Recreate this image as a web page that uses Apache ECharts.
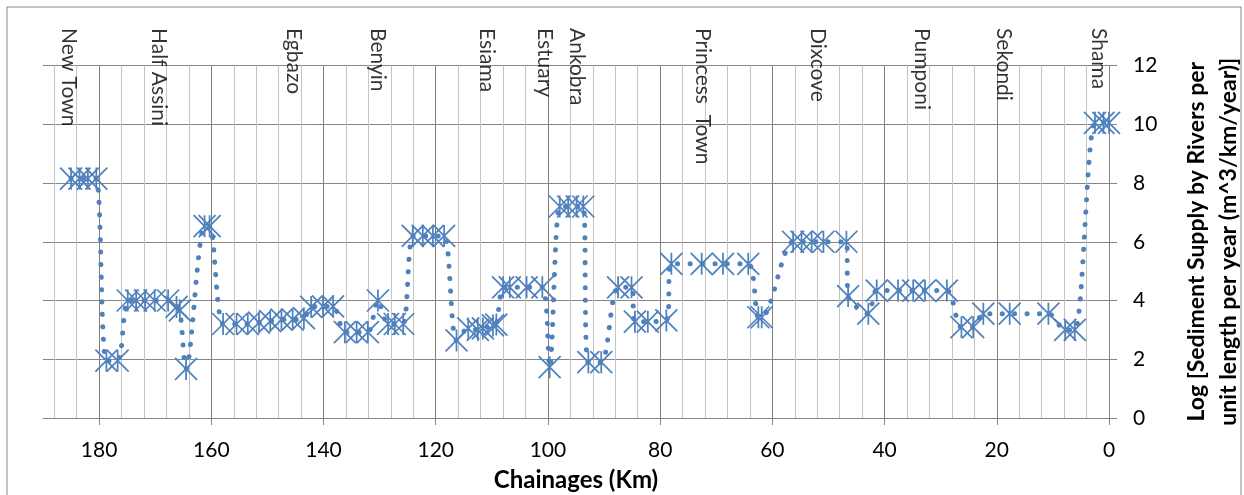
<!DOCTYPE html>
<html>
<head>
<meta charset="utf-8">
<title>Sediment supply by rivers</title>
<script src="https://cdn.jsdelivr.net/npm/echarts@6/dist/echarts.min.js"></script>
<style>
  html, body { margin: 0; padding: 0; background: #fff; }
  #chart { width: 1244px; height: 495px; }
</style>
</head>
<body>
<div id="chart"></div>
<script>
// Chainage (km) of each sample point
const chainages = [
  185, 183.5, 182, 180.5, 178.7, 176.7, 174.9, 173.4, 171.8, 170.1, 167.7, 166.2, 165.6, 164.5,
  161.2, 160.3, 157.9, 155.5, 153.5, 151.5, 149.5, 147.5, 145.5, 143.5, 142.2, 140.1, 138.3,
  136.2, 134.1, 132.1, 130.3, 128.5, 127.3, 125.8, 124.1, 122.3, 120.5, 118.5, 116.3, 114.2,
  112.5, 111.6, 109.8, 109.2, 108, 106.8, 103.8, 101, 99.7, 97.9, 96.4, 94.9, 93.7, 92.8, 90.5,
  87.5, 85.1, 84.5, 82.2, 78.9, 78, 72.6, 68.8, 64.3, 62.5, 61.9, 56.3, 54.8, 53, 50.9, 46.8,
  46.5, 42.9, 41.4, 37.6, 34.9, 32.8, 28.9, 26.3, 24.2, 22.4, 17.7, 10.8, 7.8, 6.1, 2.5, 1, 0
];
// Log sediment supply at each point
const logSupply = [
  8.15, 8.15, 8.15, 8.15, 1.95, 1.95, 4.0, 4.0, 4.0, 4.0, 4.0, 3.78, 3.66, 1.67,
  6.53, 6.53, 3.2, 3.2, 3.2, 3.25, 3.3, 3.35, 3.35, 3.4, 3.78, 3.8, 3.8,
  2.92, 2.92, 2.92, 4.0, 3.2, 3.2, 3.2, 6.2, 6.2, 6.2, 6.2, 2.64, 3.05,
  3.0, 3.05, 3.15, 3.18, 4.45, 4.45, 4.45, 4.45, 1.73, 7.2, 7.2, 7.2, 7.2, 1.9, 1.9,
  4.45, 4.45, 3.28, 3.28, 3.32, 5.25, 5.25, 5.25, 5.25, 3.43, 3.43, 6.0, 6.0, 6.0, 6.0, 6.0,
  4.15, 3.55, 4.34, 4.34, 4.34, 4.34, 4.34, 3.09, 3.09, 3.55, 3.55, 3.55, 3.0, 3.0, 10.05, 10.05, 10.05
];
// Places along the coast
const placeNames = ['New Town', 'Half Assini', 'Egbazo', 'Benyin', 'Esiama', 'Estuary', 'Ankobra',
  'Princess  Town', 'Dixcove', 'Pumponi', 'Sekondi', 'Shama'];
const placeChainages = [185.3, 169.2, 145.2, 130.3, 110.9, 100.4, 94.7, 72.4, 51.9, 33.3, 18.7, 1.8];
// Tick labels of the chainage axis
const xTicks = [0, 20, 40, 60, 80, 100, 120, 140, 160, 180];

const blue = '#4F81BD';
const gridGrey = '#868686';
const font = 'Lato, "Liberation Sans", sans-serif';

const chart = echarts.init(document.getElementById('chart'));

const options = {
  animation: false,
  backgroundColor: '#fff',
  textStyle: { fontFamily: font },
  graphic: [{
    type: 'rect',
    shape: { x: 7, y: 7, width: 1234, height: 500 },
    style: { fill: 'none', stroke: gridGrey, lineWidth: 1 },
    silent: true
  }],
  grid: { left: 43, right: 135, top: 65.5, bottom: 77, outerBoundsMode: 'none', containLabel: false },
  xAxis: [
    {
      // minor gridlines every 4 km
      type: 'value', position: 'bottom', inverse: true, min: 0, max: 190, interval: 4,
      axisLine: { show: false }, axisTick: { show: false }, axisLabel: { show: false },
      splitLine: { show: true, showMaxLine: false, lineStyle: { color: '#c4c4c4', width: 1 } }
    },
    {
      type: 'value', position: 'bottom', inverse: true, min: 0, max: 190, interval: 20,
      name: 'Chainages (Km)', nameLocation: 'middle', nameGap: 50,
      nameTextStyle: { fontSize: 24, fontWeight: 'bold', color: '#000', fontFamily: font },
      axisLine: { show: true, onZero: false, lineStyle: { color: gridGrey, width: 1 } },
      axisTick: { show: true, length: 7, customValues: xTicks, lineStyle: { color: gridGrey } },
      axisLabel: { customValues: xTicks, margin: 22, fontSize: 21, color: '#000', fontFamily: font },
      splitLine: { show: true, lineStyle: { color: '#7f7f7f', width: 1 } }
    }
  ],
  yAxis: {
    type: 'value', position: 'right', min: 0, max: 12, interval: 2,
    name: 'Log [Sediment Supply by Rivers per\nunit length per year (m^3/km/year)]',
    nameLocation: 'middle', nameRotate: 90, nameGap: 72,
    nameTextStyle: { fontSize: 23, fontWeight: 'bold', color: '#000', lineHeight: 32, fontFamily: font },
    axisLine: { show: true, lineStyle: { color: gridGrey, width: 1 } },
    axisTick: { show: true, length: 8, lineStyle: { color: gridGrey } },
    axisLabel: { margin: 24, fontSize: 21, color: '#000', fontFamily: font },
    splitLine: { show: true, lineStyle: { color: gridGrey, width: 1 } }
  },
  series: [
    {
      name: 'Sediment supply',
      type: 'line',
      xAxisIndex: 1,
      data: chainages.map((km, i) => [km, logSupply[i]]),
      smooth: 0.3,
      symbol: 'path://M0 0L20 20M20 0L0 20M10 0L10 20',
      symbolSize: 22,
      itemStyle: { color: blue, borderColor: blue, borderWidth: 1.75 },
      lineStyle: { color: blue, width: 5, type: [0.1, 12.3], cap: 'round' },
      silent: true
    },
    {
      name: 'Places',
      type: 'scatter',
      xAxisIndex: 1,
      clip: false,
      data: placeChainages.map((km, i) => ({ value: [km, 12], name: placeNames[i] })),
      symbolSize: 1,
      itemStyle: { color: 'transparent' },
      label: {
        show: true,
        formatter: (p) => p.name,
        position: [0, -37],
        rotate: -90,
        align: 'left',
        verticalAlign: 'middle',
        fontSize: 21,
        color: '#000',
        fontFamily: font
      },
      silent: true
    }
  ]
};

chart.setOption(options);

window.addEventListener('resize', () => {
  chart.resize();
});
</script>
</body>
</html>
